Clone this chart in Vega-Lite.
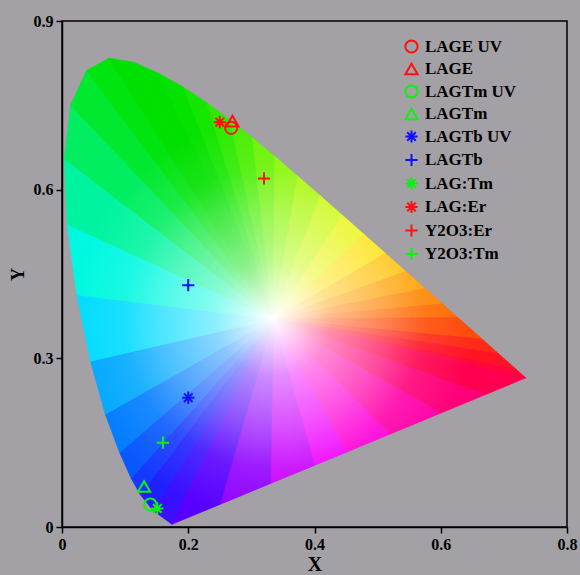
{
  "$schema": "https://vega.github.io/schema/vega-lite/v6.json",
  "width": 505,
  "height": 506,
  "autosize": {"type": "none"},
  "padding": {"left": 62, "top": 21, "right": 13, "bottom": 48},
  "background": "#a3a1a6",
  "config": {
    "view": {"stroke": "#000000", "strokeWidth": 1.5},
    "axis": {
      "grid": false,
      "domainColor": "#000000",
      "domainWidth": 1.5,
      "tickColor": "#000000",
      "tickWidth": 1.5,
      "tickSize": 6,
      "labelFont": "Liberation Serif",
      "labelFontWeight": "bold",
      "labelFontSize": 16,
      "labelColor": "#000000",
      "labelPadding": 3,
      "labelFlush": false,
      "titleFont": "Liberation Serif",
      "titleFontWeight": "bold",
      "titleFontSize": 20,
      "titleColor": "#000000"
    },
    "legend": {
      "labelFont": "Liberation Serif",
      "labelFontWeight": "bold",
      "labelFontSize": 17,
      "labelColor": "#000000",
      "symbolStrokeWidth": 2,
      "symbolSize": 150,
      "rowPadding": 2.5,
      "labelOffset": 5,
      "padding": 0
    }
  },
  "datasets": {
    "tri": [
      {"t":0,"o":0,"x":0.335,"y":0.37},{"t":0,"o":1,"x":0.1741,"y":0.005},{"t":0,"o":2,"x":0.144,"y":0.0297},
      {"t":1,"o":0,"x":0.335,"y":0.37},{"t":1,"o":1,"x":0.144,"y":0.0297},{"t":1,"o":2,"x":0.1241,"y":0.0578},
      {"t":2,"o":0,"x":0.335,"y":0.37},{"t":2,"o":1,"x":0.1241,"y":0.0578},{"t":2,"o":2,"x":0.1096,"y":0.0868},
      {"t":3,"o":0,"x":0.335,"y":0.37},{"t":3,"o":1,"x":0.1096,"y":0.0868},{"t":3,"o":2,"x":0.0913,"y":0.1327},
      {"t":4,"o":0,"x":0.335,"y":0.37},{"t":4,"o":1,"x":0.0913,"y":0.1327},{"t":4,"o":2,"x":0.0687,"y":0.2007},
      {"t":5,"o":0,"x":0.335,"y":0.37},{"t":5,"o":1,"x":0.0687,"y":0.2007},{"t":5,"o":2,"x":0.0454,"y":0.295},
      {"t":6,"o":0,"x":0.335,"y":0.37},{"t":6,"o":1,"x":0.0454,"y":0.295},{"t":6,"o":2,"x":0.0235,"y":0.4127},
      {"t":7,"o":0,"x":0.335,"y":0.37},{"t":7,"o":1,"x":0.0235,"y":0.4127},{"t":7,"o":2,"x":0.0082,"y":0.5384},
      {"t":8,"o":0,"x":0.335,"y":0.37},{"t":8,"o":1,"x":0.0082,"y":0.5384},{"t":8,"o":2,"x":0.0039,"y":0.6548},
      {"t":9,"o":0,"x":0.335,"y":0.37},{"t":9,"o":1,"x":0.0039,"y":0.6548},{"t":9,"o":2,"x":0.0139,"y":0.7502},
      {"t":10,"o":0,"x":0.335,"y":0.37},{"t":10,"o":1,"x":0.0139,"y":0.7502},{"t":10,"o":2,"x":0.0389,"y":0.812},
      {"t":11,"o":0,"x":0.335,"y":0.37},{"t":11,"o":1,"x":0.0389,"y":0.812},{"t":11,"o":2,"x":0.0743,"y":0.8338},
      {"t":12,"o":0,"x":0.335,"y":0.37},{"t":12,"o":1,"x":0.0743,"y":0.8338},{"t":12,"o":2,"x":0.1142,"y":0.8262},
      {"t":13,"o":0,"x":0.335,"y":0.37},{"t":13,"o":1,"x":0.1142,"y":0.8262},{"t":13,"o":2,"x":0.1547,"y":0.8059},
      {"t":14,"o":0,"x":0.335,"y":0.37},{"t":14,"o":1,"x":0.1547,"y":0.8059},{"t":14,"o":2,"x":0.1929,"y":0.7816},
      {"t":15,"o":0,"x":0.335,"y":0.37},{"t":15,"o":1,"x":0.1929,"y":0.7816},{"t":15,"o":2,"x":0.2296,"y":0.7543},
      {"t":16,"o":0,"x":0.335,"y":0.37},{"t":16,"o":1,"x":0.2296,"y":0.7543},{"t":16,"o":2,"x":0.2658,"y":0.7243},
      {"t":17,"o":0,"x":0.335,"y":0.37},{"t":17,"o":1,"x":0.2658,"y":0.7243},{"t":17,"o":2,"x":0.3016,"y":0.6923},
      {"t":18,"o":0,"x":0.335,"y":0.37},{"t":18,"o":1,"x":0.3016,"y":0.6923},{"t":18,"o":2,"x":0.3373,"y":0.6589},
      {"t":19,"o":0,"x":0.335,"y":0.37},{"t":19,"o":1,"x":0.3373,"y":0.6589},{"t":19,"o":2,"x":0.3731,"y":0.6245},
      {"t":20,"o":0,"x":0.335,"y":0.37},{"t":20,"o":1,"x":0.3731,"y":0.6245},{"t":20,"o":2,"x":0.4087,"y":0.5896},
      {"t":21,"o":0,"x":0.335,"y":0.37},{"t":21,"o":1,"x":0.4087,"y":0.5896},{"t":21,"o":2,"x":0.4441,"y":0.5547},
      {"t":22,"o":0,"x":0.335,"y":0.37},{"t":22,"o":1,"x":0.4441,"y":0.5547},{"t":22,"o":2,"x":0.4788,"y":0.5202},
      {"t":23,"o":0,"x":0.335,"y":0.37},{"t":23,"o":1,"x":0.4788,"y":0.5202},{"t":23,"o":2,"x":0.5125,"y":0.4866},
      {"t":24,"o":0,"x":0.335,"y":0.37},{"t":24,"o":1,"x":0.5125,"y":0.4866},{"t":24,"o":2,"x":0.5448,"y":0.4544},
      {"t":25,"o":0,"x":0.335,"y":0.37},{"t":25,"o":1,"x":0.5448,"y":0.4544},{"t":25,"o":2,"x":0.5752,"y":0.4242},
      {"t":26,"o":0,"x":0.335,"y":0.37},{"t":26,"o":1,"x":0.5752,"y":0.4242},{"t":26,"o":2,"x":0.6029,"y":0.3965},
      {"t":27,"o":0,"x":0.335,"y":0.37},{"t":27,"o":1,"x":0.6029,"y":0.3965},{"t":27,"o":2,"x":0.627,"y":0.3725},
      {"t":28,"o":0,"x":0.335,"y":0.37},{"t":28,"o":1,"x":0.627,"y":0.3725},{"t":28,"o":2,"x":0.6658,"y":0.334},
      {"t":29,"o":0,"x":0.335,"y":0.37},{"t":29,"o":1,"x":0.6658,"y":0.334},{"t":29,"o":2,"x":0.6915,"y":0.3083},
      {"t":30,"o":0,"x":0.335,"y":0.37},{"t":30,"o":1,"x":0.6915,"y":0.3083},{"t":30,"o":2,"x":0.719,"y":0.2809},
      {"t":31,"o":0,"x":0.335,"y":0.37},{"t":31,"o":1,"x":0.719,"y":0.2809},{"t":31,"o":2,"x":0.7347,"y":0.2653},
      {"t":32,"o":0,"x":0.335,"y":0.37},{"t":32,"o":1,"x":0.7347,"y":0.2653},{"t":32,"o":2,"x":0.67,"y":0.2352},
      {"t":33,"o":0,"x":0.335,"y":0.37},{"t":33,"o":1,"x":0.67,"y":0.2352},{"t":33,"o":2,"x":0.6,"y":0.2027},
      {"t":34,"o":0,"x":0.335,"y":0.37},{"t":34,"o":1,"x":0.6,"y":0.2027},{"t":34,"o":2,"x":0.52,"y":0.1656},
      {"t":35,"o":0,"x":0.335,"y":0.37},{"t":35,"o":1,"x":0.52,"y":0.1656},{"t":35,"o":2,"x":0.45,"y":0.1331},
      {"t":36,"o":0,"x":0.335,"y":0.37},{"t":36,"o":1,"x":0.45,"y":0.1331},{"t":36,"o":2,"x":0.4,"y":0.1099},
      {"t":37,"o":0,"x":0.335,"y":0.37},{"t":37,"o":1,"x":0.4,"y":0.1099},{"t":37,"o":2,"x":0.33,"y":0.0774},
      {"t":38,"o":0,"x":0.335,"y":0.37},{"t":38,"o":1,"x":0.33,"y":0.0774},{"t":38,"o":2,"x":0.25,"y":0.0402},
      {"t":39,"o":0,"x":0.335,"y":0.37},{"t":39,"o":1,"x":0.25,"y":0.0402},{"t":39,"o":2,"x":0.1741,"y":0.005}
    ],
    "pts": [
      {"name":"LAGE UV","x":0.268,"y":0.71},
      {"name":"LAGE","x":0.27,"y":0.722},
      {"name":"LAGTm UV","x":0.14,"y":0.04},
      {"name":"LAGTm","x":0.13,"y":0.072},
      {"name":"LAGTb UV","x":0.2,"y":0.23},
      {"name":"LAGTb","x":0.2,"y":0.43},
      {"name":"LAG:Tm","x":0.151,"y":0.033},
      {"name":"LAG:Er","x":0.25,"y":0.72},
      {"name":"Y2O3:Er","x":0.32,"y":0.62},
      {"name":"Y2O3:Tm","x":0.16,"y":0.15}
    ]
  },
  "encoding": {
    "x": {"field": "x", "type": "quantitative", "scale": {"domain": [0, 0.8], "nice": false, "zero": false},
      "axis": {"title": "X", "values": [0, 0.2, 0.4, 0.6, 0.8], "format": "~g", "titlePadding": 2}},
    "y": {"field": "y", "type": "quantitative", "scale": {"domain": [0, 0.9], "nice": false, "zero": false},
      "axis": {"title": "Y", "values": [0, 0.3, 0.6, 0.9], "format": "~g", "titlePadding": 6, "titleFontSize": 18}}
  },
  "layer": [
    {
      "data": {"name": "tri"},
      "mark": {"type": "line", "interpolate": "linear-closed", "strokeWidth": 0.8, "clip": true},
      "encoding": {
        "order": {"field": "o", "type": "quantitative"},
        "fill": {"field": "t", "type": "nominal", "legend": null, "scale": {
          "domain": [0,1,2,3,4,5,6,7,8,9,10,11,12,13,14,15,16,17,18,19,20,21,22,23,24,25,26,27,28,29,30,31,32,33,34,35,36,37,38,39],
          "range": ["#3810ff","#2020ff","#1438ff","#0858ff","#007cff","#00a8ff","#00dcff","#00f8e0","#00f4a0","#00ee60","#00e830","#00e410","#00e000","#00e000","#06e200","#14e600","#2cea00","#48ee00","#68f200","#88f600","#a8f800","#c8f800","#e8f400","#ffe000","#ffc000","#ffa000","#ff8400","#ff6a00","#ff4a08","#ff2a18","#ff1424","#ff0838","#ff0050","#ff0078","#ff00a8","#ff00d8","#f000ff","#c800ff","#9000ff","#5800ff"]}},
        "stroke": {"field": "t", "type": "nominal", "legend": null, "scale": {
          "domain": [0,1,2,3,4,5,6,7,8,9,10,11,12,13,14,15,16,17,18,19,20,21,22,23,24,25,26,27,28,29,30,31,32,33,34,35,36,37,38,39],
          "range": ["#3810ff","#2020ff","#1438ff","#0858ff","#007cff","#00a8ff","#00dcff","#00f8e0","#00f4a0","#00ee60","#00e830","#00e410","#00e000","#00e000","#06e200","#14e600","#2cea00","#48ee00","#68f200","#88f600","#a8f800","#c8f800","#e8f400","#ffe000","#ffc000","#ffa000","#ff8400","#ff6a00","#ff4a08","#ff2a18","#ff1424","#ff0838","#ff0050","#ff0078","#ff00a8","#ff00d8","#f000ff","#c800ff","#9000ff","#5800ff"]}}
      }
    },
    {
      "data": {"name": "tri"},
      "transform": [{"filter": "datum.o == 1"}],
      "mark": {"type": "line", "interpolate": "linear-closed", "strokeWidth": 0, "clip": true,
        "fill": {"gradient": "radial", "x1": 0.453, "y1": 0.559, "r1": 0, "x2": 0.453, "y2": 0.559, "r2": 0.43,
          "stops": [
            {"offset": 0, "color": "rgba(255,255,255,1)"},
            {"offset": 0.1, "color": "rgba(255,255,255,0.85)"},
            {"offset": 0.29, "color": "rgba(255,255,255,0.55)"},
            {"offset": 0.56, "color": "rgba(255,255,255,0.3)"},
            {"offset": 0.75, "color": "rgba(255,255,255,0.1)"},
            {"offset": 1, "color": "rgba(255,255,255,0)"}
          ]}},
      "encoding": {
        "order": {"field": "t", "type": "quantitative"}
      }
    },
    {
      "data": {"name": "pts"},
      "mark": {"type": "point", "filled": false, "strokeWidth": 2, "size": 150, "opacity": 1},
      "encoding": {
        "color": {"field": "name", "type": "nominal", "scale": {
          "domain": ["LAGE UV","LAGE","LAGTm UV","LAGTm","LAGTb UV","LAGTb","LAG:Tm","LAG:Er","Y2O3:Er","Y2O3:Tm"],
          "range": ["#ff1010","#ff1010","#10f010","#10f010","#1010ff","#1010ff","#10f010","#ff1010","#ff1010","#10f010"]},
          "legend": {"title": null, "orient": "none", "legendX": 341, "legendY": 17}},
        "shape": {"field": "name", "type": "nominal", "scale": {
          "domain": ["LAGE UV","LAGE","LAGTm UV","LAGTm","LAGTb UV","LAGTb","LAG:Tm","LAG:Er","Y2O3:Er","Y2O3:Tm"],
          "range": ["circle","triangle-up","circle","triangle-up","M-1,0L1,0M0,-1L0,1M-0.7,-0.7L0.7,0.7M-0.7,0.7L0.7,-0.7","M-1,0L1,0M0,-1L0,1","M-1,0L1,0M0,-1L0,1M-0.7,-0.7L0.7,0.7M-0.7,0.7L0.7,-0.7","M-1,0L1,0M0,-1L0,1M-0.7,-0.7L0.7,0.7M-0.7,0.7L0.7,-0.7","M-1,0L1,0M0,-1L0,1","M-1,0L1,0M0,-1L0,1"]},
          "legend": {"title": null, "orient": "none", "legendX": 341, "legendY": 17}}
      }
    }
  ]
}
